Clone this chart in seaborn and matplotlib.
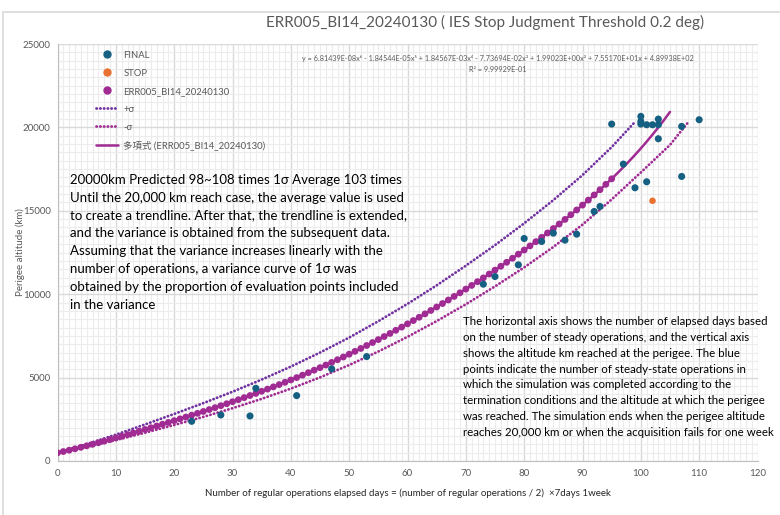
import numpy as np
import pandas as pd
import matplotlib
matplotlib.use('Agg')
import matplotlib.pyplot as plt
import seaborn as sns
from matplotlib.ticker import MultipleLocator
from matplotlib.lines import Line2D
from matplotlib.patches import Rectangle

# FINAL points (elapsed days, perigee altitude km)
final_x = [23, 28, 33, 34, 41, 47, 53, 73, 75, 79, 80, 83, 85, 87, 89, 92, 93, 95,
           97, 99, 100, 100, 100, 101, 101, 102, 103, 103, 103, 107, 107, 110]
final_y = [2380, 2760, 2700, 4360, 3920, 5520, 6260, 10600, 11060, 11760, 13340, 13160,
           13660, 13240, 13600, 14960, 15260, 20200, 17800, 16380, 20660, 20360, 20200,
           16740, 20160, 20160, 20500, 20160, 19320, 20060, 17060, 20460]

# STOP point
stop_x = [102]
stop_y = [15600]

# ERR005_BI14_20240130 averaged points
err_x = list(range(0, 96))
err_y = [490, 568, 648, 732, 819, 909, 1001, 1094, 1189, 1286,
         1384, 1483, 1583, 1684, 1786, 1890, 1994, 2098, 2204, 2311,
         2418, 2526, 2636, 2746, 2858, 2970, 3083, 3198, 3315, 3434,
         3554, 3675, 3799, 3924, 4051, 4180, 4311, 4444, 4580, 4718,
         4858, 5000, 5146, 5294, 5444, 5597, 5753, 5911, 6072, 6236,
         6403, 6574, 6747, 6923, 7100, 7279, 7461, 7647, 7836, 8028,
         8223, 8419, 8618, 8820, 9025, 9233, 9441, 9653, 9867, 10084,
         10305, 10526, 10751, 10978, 11209, 11442, 11676, 11914, 12155, 12399,
         12646, 12896, 13150, 13408, 13671, 13937, 14207, 14483, 14764, 15050,
         15342, 15642, 15950, 16265, 16587, 16917]

# +sigma / -sigma curves
up_x = [0, 5, 10, 15, 20, 25, 30, 35, 40, 45, 50, 55, 60, 65, 70, 75, 80, 85, 90, 95, 99]
up_y = [490, 1010, 1580, 2190, 2820, 3470, 4150, 4880, 5660, 6500, 7400, 8380, 9420,
        10530, 11710, 12940, 14250, 15640, 17140, 18820, 20330]
lo_x = [0, 5, 10, 15, 20, 25, 30, 35, 40, 45, 50, 55, 60, 65, 70, 75, 80, 85, 90, 95, 100, 105, 108]
lo_y = [490, 844, 1254, 1695, 2158, 2645, 3164, 3725, 4338, 5012, 5753, 6564, 7443,
        8388, 9395, 10467, 11606, 12832, 14172, 15682, 17300, 18950, 20260]

# trendline coefficients shown on the chart (x^6 ... x^0)
coef = [6.81439e-08, -1.84544e-05, 1.84567e-03, -7.73694e-02, 1.99023e+00, 7.55170e+01, 4.89938e+02]
trend_end = 105

sns.set_style('white')
plt.rcParams['font.family'] = ['Lato', 'Noto Sans CJK JP', 'DejaVu Sans']

c_final = '#156082'
c_stop = '#E97132'
c_err = '#A02B93'
c_up = '#7030A0'
c_lo = '#A02B93'
grey = '#595959'
dots = (0, (0.1, 1.25))

fig = plt.figure(figsize=(7.8, 5.15), dpi=100)
ax = fig.add_axes([57.5/780, 1-461/515, 700/780, 417/515])

# outer chart frame
fig.add_artist(Rectangle((3/780, -0.01), 1.0, 1.01-12/515, transform=fig.transFigure,
                         fill=False, edgecolor='#d9d9d9', lw=1.2))

df_final = pd.DataFrame({'x': final_x, 'y': final_y})
df_stop = pd.DataFrame({'x': stop_x, 'y': stop_y})
df_err = pd.DataFrame({'x': err_x, 'y': err_y})
df_up = pd.DataFrame({'x': up_x, 'y': up_y})
df_lo = pd.DataFrame({'x': lo_x, 'y': lo_y})
tx = np.linspace(0, trend_end, 200)
df_tr = pd.DataFrame({'x': tx, 'y': np.polyval(coef, tx)})

sns.lineplot(data=df_up, x='x', y='y', ax=ax, color=c_up, lw=2.0,
             linestyle=dots, dash_capstyle='round', zorder=3)
sns.lineplot(data=df_lo, x='x', y='y', ax=ax, color=c_lo, lw=2.0,
             linestyle=dots, dash_capstyle='round', zorder=3)
sns.scatterplot(data=df_err, x='x', y='y', ax=ax, color=c_err, s=24, edgecolor='none', zorder=4)
sns.lineplot(data=df_tr, x='x', y='y', ax=ax, color=c_err, lw=1.8, zorder=5)
sns.scatterplot(data=df_final, x='x', y='y', ax=ax, color=c_final, s=26, edgecolor='none', zorder=6)
sns.scatterplot(data=df_stop, x='x', y='y', ax=ax, color=c_stop, s=22, edgecolor='none', zorder=6)

ax.set_xlim(0, 120)
ax.set_ylim(0, 25000)
ax.xaxis.set_major_locator(MultipleLocator(10))
ax.xaxis.set_minor_locator(MultipleLocator(1))
ax.yaxis.set_major_locator(MultipleLocator(5000))
ax.yaxis.set_minor_locator(MultipleLocator(500))
ax.grid(which='major', color='#d9d9d9', lw=1.0)
ax.grid(which='minor', color='#ececec', lw=0.8)
ax.set_axisbelow(True)
for s in ['top', 'right']:
    ax.spines[s].set_visible(False)
ax.spines['left'].set_color('#bfbfbf')
ax.spines['bottom'].set_color('#bfbfbf')
ax.tick_params(which='both', length=0, labelsize=7, colors=grey, pad=6)
ax.tick_params(axis='y', pad=5)

ax.set_xlabel('Number of regular operations elapsed days = (number of regular operations / 2)  \u00d77days 1week',
              fontsize=7, color='#262626', labelpad=7)
ax.set_ylabel('Perigee altitude (km)', fontsize=7, color=grey, labelpad=-2)

fig.text(485/780, 1-22/515, 'ERR005_BI14_20240130 ( IES Stop Judgment Threshold 0.2 deg)',
         ha='center', va='center', fontsize=11, color=grey)

eq = ('y = 6.81439E-08x\u2076 - 1.84544E-05x\u2075 + 1.84567E-03x\u2074 - 7.73694E-02x\u00b3 '
      '+ 1.99023E+00x\u00b2 + 7.55170E+01x + 4.89938E+02')
fig.text(498/780, 1-58/515, eq, ha='center', va='center', fontsize=5.2, color=grey)
fig.text(498/780, 1-69/515, 'R\u00b2 = 9.99929E-01', ha='center', va='center', fontsize=5.2, color=grey)

handles = [
    Line2D([], [], ls='none', marker='o', ms=5, color=c_final),
    Line2D([], [], ls='none', marker='o', ms=5, color=c_stop),
    Line2D([], [], ls='none', marker='o', ms=5, color=c_err),
    Line2D([], [], color=c_up, lw=2.0, ls=dots, dash_capstyle='round'),
    Line2D([], [], color=c_lo, lw=2.0, ls=dots, dash_capstyle='round'),
    Line2D([], [], color=c_err, lw=1.8),
]
labels = ['FINAL', 'STOP', 'ERR005_BI14_20240130', '+\u03c3', '-\u03c3', '多項式 (ERR005_BI14_20240130)']
fig.legend(handles, labels, loc='upper left', bbox_to_anchor=(92/780, 1-47/515), frameon=False,
           fontsize=6.8, labelcolor=grey, handlelength=2.4, handletextpad=0.5,
           labelspacing=0.95, borderaxespad=0)

left_note = ('20000km Predicted 98~108 times 1\u03c3 Average 103 times\n'
             'Until the 20,000 km reach case, the average value is used\n'
             'to create a trendline. After that, the trendline is extended,\n'
             'and the variance is obtained from the subsequent data.\n'
             'Assuming that the variance increases linearly with the\n'
             'number of operations, a variance curve of 1\u03c3 was\n'
             'obtained by the proportion of evaluation points included\n'
             'in the variance')
fig.text(70/780, 1-174/515, left_note, ha='left', va='top', fontsize=9.5,
         color='black', linespacing=1.58)

right_note = ('The horizontal axis shows the number of elapsed days based\n'
              'on the number of steady operations, and the vertical axis\n'
              'shows the altitude km reached at the perigee. The blue\n'
              'points indicate the number of steady-state operations in\n'
              'which the simulation was completed according to the\n'
              'termination conditions and the altitude at which the perigee\n'
              'was reached. The simulation ends when the perigee altitude\n'
              'reaches 20,000 km or when the acquisition fails for one week')
fig.text(463/780, 1-316/515, right_note, ha='left', va='top', fontsize=8.3,
         color='black', linespacing=1.54)

fig.savefig('out.png', dpi=100)
